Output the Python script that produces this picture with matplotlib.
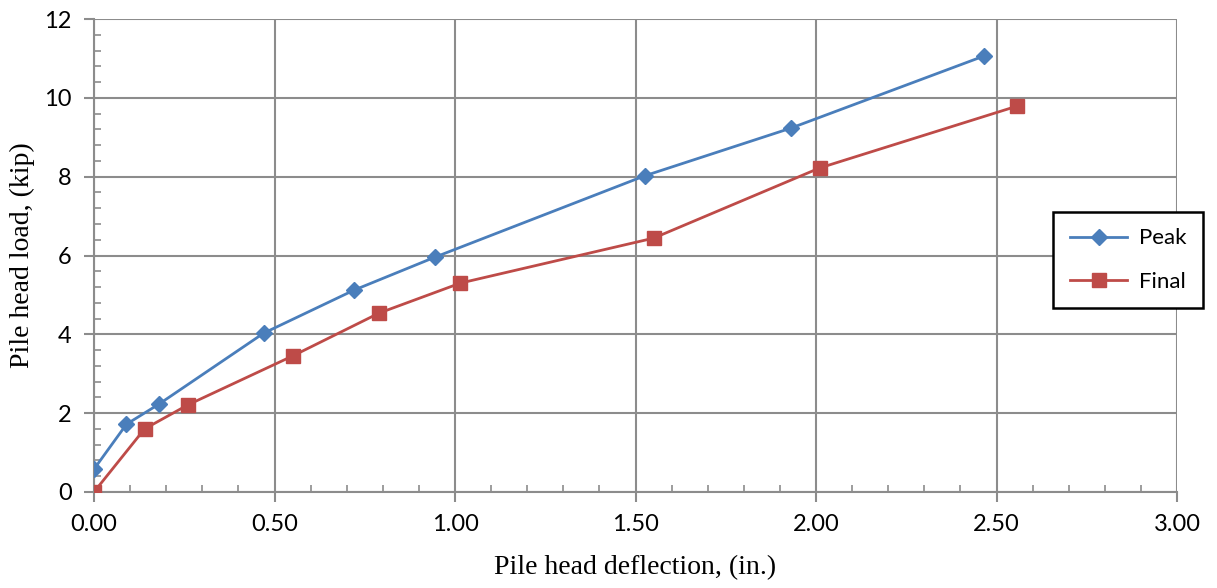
#!/usr/bin/env python3
import matplotlib
matplotlib.use("Agg")
import matplotlib.pyplot as plt
from matplotlib.ticker import MultipleLocator, FormatStrFormatter

# data
peak_x = [0.00, 0.09, 0.18, 0.47, 0.72, 0.945, 1.525, 1.93, 2.465]
peak_y = [0.58, 1.72, 2.23, 4.03, 5.12, 5.96, 8.02, 9.23, 11.06]
final_x = [0.00, 0.14, 0.26, 0.55, 0.79, 1.015, 1.55, 2.01, 2.557]
final_y = [0.00, 1.60, 2.21, 3.45, 4.54, 5.30, 6.44, 8.22, 9.79]

tick_font = "Lato"
label_font = "Liberation Serif"
grid_col = "#8c8c8c"

fig = plt.figure(figsize=(12.17, 5.88), dpi=100)
ax = fig.add_axes([94 / 1217, 96 / 588, 1083 / 1217, 473 / 588])

ax.plot(peak_x, peak_y, color="#4a7ebb", lw=2, marker="D", ms=8, label="Peak", zorder=3)
ax.plot(final_x, final_y, color="#be4b48", lw=2, marker="s", ms=10, label="Final", zorder=3)

ax.set_xlim(0, 3)
ax.set_ylim(0, 12)
ax.xaxis.set_major_locator(MultipleLocator(0.5))
ax.xaxis.set_minor_locator(MultipleLocator(0.1))
ax.yaxis.set_major_locator(MultipleLocator(2))
ax.yaxis.set_minor_locator(MultipleLocator(0.4))
ax.xaxis.set_major_formatter(FormatStrFormatter("%.2f"))

ax.grid(True, which="major", color=grid_col, lw=1.5)
ax.tick_params(which="major", direction="out", length=7, width=1.5, color=grid_col,
               labelsize=17, pad=9)
ax.tick_params(which="minor", direction="in", length=5, width=1.2, color=grid_col)
for lab in ax.get_xticklabels() + ax.get_yticklabels():
    lab.set_fontfamily(tick_font)

for side in ["top", "right"]:
    ax.spines[side].set_visible(False)
for side in ["left", "bottom"]:
    ax.spines[side].set_color(grid_col)
    ax.spines[side].set_linewidth(1.5)

ax.set_xlabel("Pile head deflection, (in.)", fontfamily=label_font, fontsize=20, labelpad=14)
ax.set_ylabel("Pile head load, (kip)", fontfamily=label_font, fontsize=20, labelpad=7)

leg = ax.legend(loc="center left", bbox_to_anchor=(1053 / 1217, 328 / 588), bbox_transform=fig.transFigure,
                borderaxespad=0, fancybox=False, framealpha=1, edgecolor="black", borderpad=0.75,
                labelspacing=1.05, handlelength=2.6, handletextpad=0.5,
                prop={"family": tick_font, "size": 16})
leg.get_frame().set_linewidth(1.8)

fig.savefig("out.png", dpi=100)
